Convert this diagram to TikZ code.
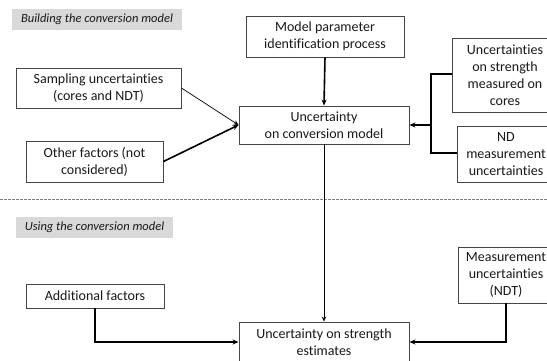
\documentclass[tikz,border=0pt]{standalone}
\usepackage{fontspec}
\setmainfont{Carlito}[Ligatures={NoCommon}]
\usetikzlibrary{arrows.meta}
\definecolor{lab}{RGB}{217,217,217}
\definecolor{bord}{RGB}{70,70,70}
\begin{document}
\begin{tikzpicture}[x=1pt,y=-1pt,
  box/.style={draw=bord,line width=0.9pt,rectangle,align=center,inner sep=0pt,
    font=\fontsize{14}{17}\selectfont,text=black!90},
  lbl/.style={fill=lab,rectangle,inner sep=0pt,font=\fontsize{12.5}{14}\selectfont\itshape,text=black!90},
  thk/.style={line width=1.6pt,-{Stealth[length=6pt,width=5pt]}},
  thn/.style={line width=0.7pt,-{Stealth[length=5pt,width=4.5pt]}}]
\useasboundingbox (0,0) rectangle (547,360);
\clip (0,0) rectangle (547,360);
\fill[white] (0,0) rectangle (547,360);
\node[lbl,minimum width=170,minimum height=21] (lab1) at (97,19.5) {Building the conversion model};
\node[lbl,minimum width=157,minimum height=21] (lab2) at (94.5,227.5) {Using the conversion model};
\node[box,minimum width=158,minimum height=41] (mp) at (325,36.5) {Model parameter\\identification process};
\node[box,minimum width=170,minimum height=38] (ucm) at (324,125) {Uncertainty\\on conversion model};
\node[box,minimum width=106,minimum height=74] (usc) at (505,75) {Uncertainties\\on strength\\measured on\\cores};
\node[box,minimum width=98,minimum height=56] (nd) at (506,154) {ND\\measurement\\uncertainties};
\node[box,minimum width=165,minimum height=40] (samp) at (98.5,88) {Sampling uncertainties\\(cores and NDT)};
\node[box,minimum width=137,minimum height=41] (oth) at (94.5,161.5) {Other factors (not\\considered)};
\node[box,minimum width=138,minimum height=24] (add) at (95,296) {Additional factors};
\node[box,minimum width=170,minimum height=40] (use) at (324,342) {Uncertainty on strength\\estimates};
\node[box,minimum width=96,minimum height=56] (meas) at (506,275) {Measurement\\uncertainties\\(NDT)};
\coordinate (j1) at (431,125);
\draw[gray,line width=0.8pt,dash pattern=on 2.5pt off 1.5pt] (0,199) -- (547,199);
\draw[thk] (mp.south) -- (ucm.north);
\draw[line width=1.6pt] (usc.west |- 0,74) -| (j1);
\draw[line width=1.6pt] (nd.west |- 0,153) -| (j1);
\draw[thk] (j1) -- (ucm.east);
\draw[thn] (samp.east) -- (ucm.west);
\draw[thk] (oth.east) -- (ucm.west);
\draw[thn] (ucm.south) -- (use.north);
\draw[thk] (add.south) |- (use.west);
\draw[thk] (meas.south) |- (use.east);
\end{tikzpicture}
\end{document}
